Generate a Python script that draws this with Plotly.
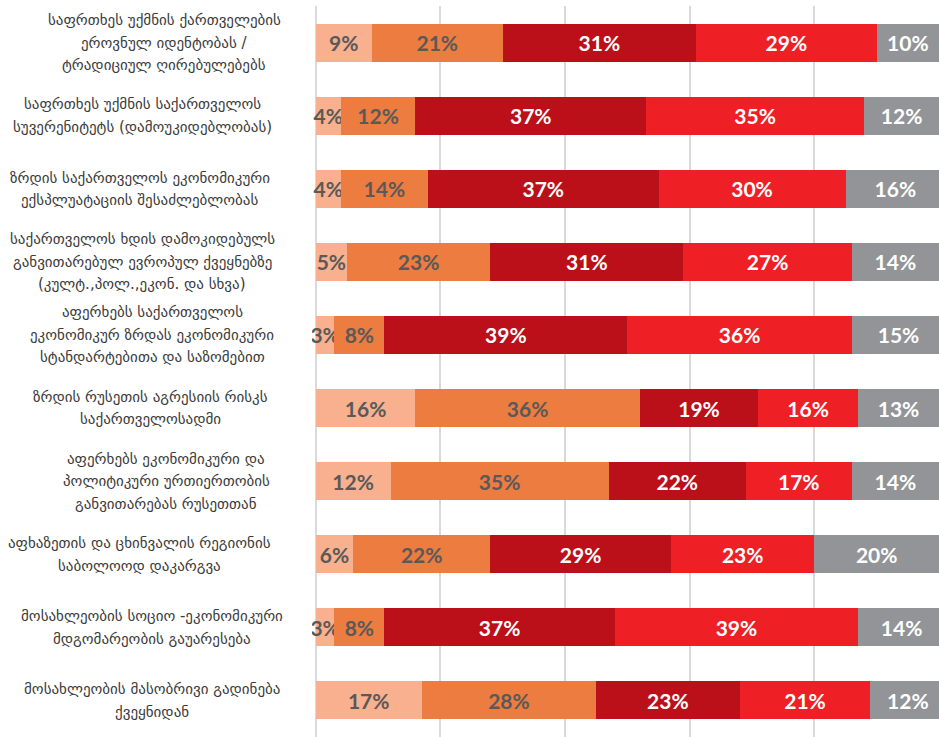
import plotly.graph_objects as go

categories = [
    "საფრთხეს უქმნის ქართველების<br>ეროვნულ იდენტობას /<br>ტრადიციულ ღირებულებებს",
    "საფრთხეს უქმნის საქართველოს<br>სუვერენიტეტს (დამოუკიდებლობას)",
    "ზრდის საქართველოს ეკონომიკური<br>ექსპლუატაციის შესაძლებლობას",
    "საქართველოს ხდის დამოკიდებულს<br>განვითარებულ ევროპულ ქვეყნებზე<br>(კულტ.,პოლ.,ეკონ. და სხვა)",
    "აფერხებს საქართველოს<br>ეკონომიკურ ზრდას ეკონომიკური<br>სტანდარტებითა და საზომებით",
    "ზრდის რუსეთის აგრესიის რისკს<br>საქართველოსადმი",
    "აფერხებს ეკონომიკური და<br>პოლიტიკური ურთიერთობის<br>განვითარებას რუსეთთან",
    "აფხაზეთის და ცხინვალის რეგიონის<br>საბოლოოდ დაკარგვა",
    "მოსახლეობის სოციო -ეკონომიკური<br>მდგომარეობის გაუარესება",
    "მოსახლეობის მასობრივი გადინება<br>ქვეყნიდან",
]

seg1 = [9, 4, 4, 5, 3, 16, 12, 6, 3, 17]
seg2 = [21, 12, 14, 23, 8, 36, 35, 22, 8, 28]
seg3 = [31, 37, 37, 31, 39, 19, 22, 29, 37, 23]
seg4 = [29, 35, 30, 27, 36, 16, 17, 23, 39, 21]
seg5 = [10, 12, 16, 14, 15, 13, 14, 20, 14, 12]

series = [seg1, seg2, seg3, seg4, seg5]
colors = ["#F8B08F", "#EC7C40", "#BB0F19", "#EE1F25", "#929497"]
text_colors = ["#595959", "#595959", "#FFFFFF", "#FFFFFF", "#FFFFFF"]

# horizontal centre (px from the left edge) of each wrapped category label
label_center_px = [164, 142, 140, 142, 152, 151, 166, 140, 152, 152]

ids = list(range(len(categories)))

W, H = 939, 737
M_L = 312           # plot area starts a few px left of the 0% line
X_MIN = -0.6        # small negative pad so narrow first labels are not cut
plot_w = W - M_L

fig = go.Figure()
for vals, col, tcol in zip(series, colors, text_colors):
    fig.add_trace(go.Bar(
        y=ids, x=vals, orientation="h",
        marker=dict(color=col, line=dict(width=0)),
        text=[f"{v}%" for v in vals],
        textposition="inside",
        insidetextanchor="middle",
        textangle=0,
        constraintext="none",
        textfont=dict(family="Lato", size=21, color=tcol, weight="bold"),
        hoverinfo="skip",
        showlegend=False,
    ))

# category labels, one annotation per line for wider line spacing
LINE_GAP = 22.5
for i, cat in enumerate(categories):
    lines = cat.split("<br>")
    n = len(lines)
    xc = (label_center_px[i] - M_L) / plot_w
    for j, ln in enumerate(lines):
        fig.add_annotation(
            x=xc, xref="paper", y=i, yref="y",
            text=ln, showarrow=False,
            xanchor="center", yanchor="middle",
            yshift=((n - 1) / 2 - j) * LINE_GAP,
            font=dict(family="DejaVu Sans", size=15, color="#3A3A3A"),
        )

fig.update_layout(
    barmode="stack",
    bargap=0.48,
    width=W, height=H,
    margin=dict(l=M_L, r=0, t=6, b=0),
    plot_bgcolor="white", paper_bgcolor="white",
    uniformtext=dict(minsize=8, mode="show"),
)
fig.update_xaxes(
    range=[X_MIN, 100], tickvals=[0, 20, 40, 60, 80, 100],
    showticklabels=False, showgrid=True, gridcolor="#D9D9D9", gridwidth=1.5,
    zeroline=False, showline=False,
)
fig.update_yaxes(
    autorange="reversed", showticklabels=False, showgrid=False,
    zeroline=False, showline=False,
)

fig.write_html("out.html")
